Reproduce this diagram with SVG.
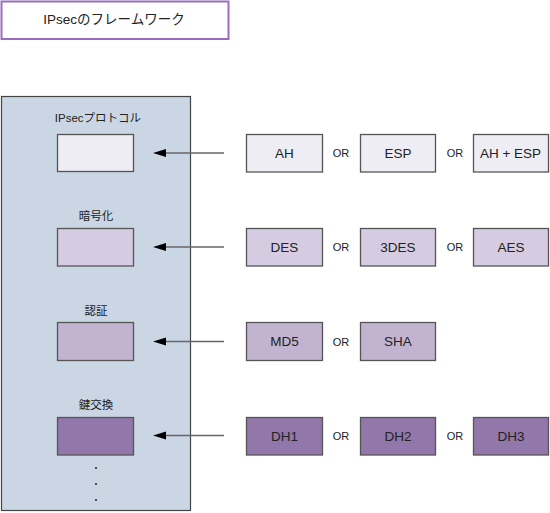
<svg xmlns="http://www.w3.org/2000/svg" width="550" height="513" viewBox="0 0 550 513">
<style>
text{font-family:"Liberation Sans","Noto Sans CJK JP",sans-serif;fill:#222;text-anchor:middle;dominant-baseline:central}
.lbl{font-size:11.5px}
.opt{font-size:13.5px}
.or{font-size:11px}
.box{stroke:#555;stroke-width:1.3}
.r1{fill:#efedf4}
.r2{fill:#d5cce1}
.r3{fill:#c2b4d1}
.r4{fill:#9277aa}
.conn{stroke:#666;stroke-width:1.5;fill:none}
.head{fill:#000}
</style>
<g id="title">
<rect x="1.5" y="1.5" width="227" height="37.5" fill="#fff" stroke="#9a6cc0" stroke-width="2"/>
<text x="114" y="19" style="font-size:13.5px">IPsecのフレームワーク</text>
</g>
<g id="panel">
<rect x="1.5" y="96.5" width="189" height="414" fill="#cbd6e5" stroke="#444" stroke-width="1.2"/>
<text class="lbl" x="98" y="118">IPsecプロトコル</text>
<text class="lbl" x="96" y="216">暗号化</text>
<text class="lbl" x="96" y="311">認証</text>
<text class="lbl" x="96" y="405">鍵交換</text>
<circle cx="96" cy="468" r="1.1" fill="#333"/>
<circle cx="96" cy="484" r="1.1" fill="#333"/>
<circle cx="96" cy="500" r="1.1" fill="#333"/>
</g>
<g id="slot-protocol"><rect class="box r1" x="57.5" y="134.5" width="76" height="37"/></g>
<g id="slot-encryption"><rect class="box r2" x="57.5" y="228.5" width="76" height="37.5"/></g>
<g id="slot-auth"><rect class="box r3" x="57.5" y="322.5" width="76" height="38"/></g>
<g id="slot-keyex"><rect class="box r4" x="57.5" y="417.5" width="76" height="37.5"/></g>
<g id="connectors">
<line class="conn" x1="224" y1="153" x2="166" y2="153"/>
<line class="conn" x1="224" y1="247" x2="166" y2="247"/>
<line class="conn" x1="224" y1="341.5" x2="166" y2="341.5"/>
<line class="conn" x1="224" y1="435.5" x2="166" y2="435.5"/>
<path class="head" d="M153,153 L166,149 L166,157 Z"/>
<path class="head" d="M153,247 L166,243 L166,251 Z"/>
<path class="head" d="M153,341.5 L166,337.5 L166,345.5 Z"/>
<path class="head" d="M153,435.5 L166,431.5 L166,439.5 Z"/>
</g>
<g id="row1">
<g id="AH"><rect class="box r1" x="246.5" y="134.5" width="76" height="37.5"/><text class="opt" x="284.5" y="153">AH</text></g>
<text class="or" x="341" y="153">OR</text>
<g id="ESP"><rect class="box r1" x="360.5" y="134.5" width="75" height="37.5"/><text class="opt" x="398" y="153">ESP</text></g>
<text class="or" x="455" y="153">OR</text>
<g id="AHESP"><rect class="box r1" x="473.5" y="134.5" width="75" height="37.5"/><text class="opt" x="510.5" y="153">AH + ESP</text></g>
</g>
<g id="row2">
<g id="DES"><rect class="box r2" x="246.5" y="228.5" width="76" height="37.5"/><text class="opt" x="284.5" y="247">DES</text></g>
<text class="or" x="341" y="247">OR</text>
<g id="3DES"><rect class="box r2" x="360.5" y="228.5" width="75" height="37.5"/><text class="opt" x="398" y="247">3DES</text></g>
<text class="or" x="455" y="247">OR</text>
<g id="AES"><rect class="box r2" x="473.5" y="228.5" width="75" height="37.5"/><text class="opt" x="511" y="247">AES</text></g>
</g>
<g id="row3">
<g id="MD5"><rect class="box r3" x="246.5" y="322.5" width="76" height="38"/><text class="opt" x="284.5" y="341.5">MD5</text></g>
<text class="or" x="341" y="341.5">OR</text>
<g id="SHA"><rect class="box r3" x="360.5" y="322.5" width="75" height="38"/><text class="opt" x="398" y="341.5">SHA</text></g>
</g>
<g id="row4">
<g id="DH1"><rect class="box r4" x="246.5" y="417.5" width="76" height="37.5"/><text class="opt" x="284.5" y="436">DH1</text></g>
<text class="or" x="341" y="436">OR</text>
<g id="DH2"><rect class="box r4" x="360.5" y="417.5" width="75" height="37.5"/><text class="opt" x="398" y="436">DH2</text></g>
<text class="or" x="455" y="436">OR</text>
<g id="DH3"><rect class="box r4" x="473.5" y="417.5" width="75" height="37.5"/><text class="opt" x="511" y="436">DH3</text></g>
</g>
</svg>
